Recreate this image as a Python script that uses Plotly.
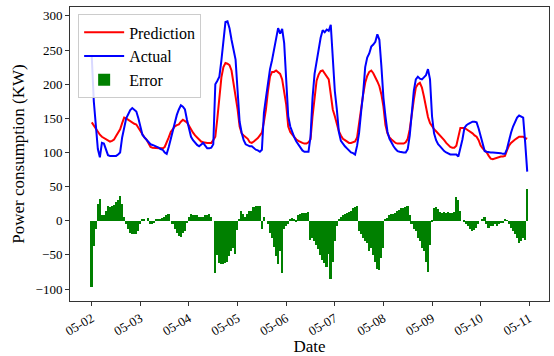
import pandas as pd
import plotly.graph_objects as go

start_time = "2023-05-02 00:00"

actual = [
    240, 175, 140, 105, 93, 114, 113, 104, 96, 95, 95, 95, 95, 97, 100, 122, 138, 150, 156, 162, 165, 163, 160, 150,
    138, 126, 122, 119, 115, 112, 111, 110, 109, 107, 105, 104, 100, 98, 108, 120, 129, 143, 155, 163, 169, 167, 163, 148,
    133, 123, 118, 114, 111, 109, 112, 114, 110, 106, 106, 107, 112, 200, 205, 211, 235, 265, 291, 292, 282, 265, 250, 236,
    190, 145, 129, 118, 112, 110, 109, 109, 106, 104, 103, 101, 104, 158, 180, 202, 222, 235, 250, 265, 282, 274, 281, 260,
    202, 153, 138, 129, 122, 116, 111, 107, 103, 101, 101, 101, 123, 180, 215, 235, 250, 268, 279, 276, 280, 278, 287, 240,
    190, 163, 130, 117, 112, 109, 106, 103, 100, 99, 97, 110, 129, 160, 187, 225, 239, 245, 255, 258, 262, 273, 265, 226,
    180, 153, 130, 120, 114, 109, 105, 102, 101, 100, 100, 100, 105, 125, 163, 190, 207, 211, 208, 207, 210, 213, 222, 207,
    153, 128, 118, 112, 109, 105, 102, 100, 98, 97, 97, 97, 97, 94, 105, 119, 136, 140, 142, 144, 145, 145, 144, 135,
    123, 112, 102, 101, 100, 100, 100, 100, 100, 99, 99, 98, 98, 105, 118, 129, 138, 146, 151, 154, 153, 151, 114, 72,
]

prediction = [
    144, 139, 134, 130, 126, 123, 121, 119, 118, 116, 117, 119, 124, 129, 134, 143, 151, 150, 148, 145, 144, 142, 141, 136,
    131, 127, 122, 119, 113, 108, 107, 107, 107, 107, 107, 106, 108, 114, 122, 130, 134, 138, 140, 141, 145, 148, 146, 144,
    139, 133, 129, 125, 122, 119, 116, 115, 114, 114, 114, 114, 118, 123, 150, 177, 210, 225, 231, 230, 228, 220, 202, 180,
    163, 138, 128, 125, 123, 120, 115, 114, 116, 118, 121, 125, 129, 145, 163, 190, 211, 218, 218, 220, 218, 215, 207, 190,
    170, 138, 130, 126, 122, 119, 117, 115, 114, 113, 113, 115, 119, 153, 180, 205, 214, 219, 220, 216, 212, 207, 185, 163,
    153, 140, 131, 125, 120, 118, 116, 114, 114, 115, 116, 122, 145, 163, 185, 202, 212, 218, 220, 216, 211, 204, 197, 185,
    167, 140, 128, 122, 119, 116, 114, 113, 113, 112, 113, 115, 120, 134, 160, 177, 195, 200, 202, 195, 182, 165, 152, 143,
    138, 134, 131, 128, 124, 122, 118, 114, 111, 108, 107, 107, 110, 123, 136, 136, 136, 134, 132, 131, 128, 125, 123, 118,
    110, 106, 103, 100, 95, 91, 90, 91, 93, 93, 94, 94, 95, 103, 110, 114, 117, 119, 121, 123, 123, 123, 121, 120,
]

error = [
    -97, -37, -12, 25, 32, 9, 8, 15, 22, 20, 21, 23, 27, 30, 36, 25, 5, -5, -12, -18, -20, -20, -20, -15,
    -5, 2, 3, 0, 4, -5, -5, -4, 3, 3, 2, 4, 6, 9, 10, 0, -5, -12, -18, -22, -24, -18, -15, -4,
    5, 10, 9, 8, 8, 6, 5, 5, 8, 9, 10, 6, 0, -77, -50, -62, -63, -63, -62, -60, -52, -45, -40, -48,
    -14, 2, 14, 10, 5, 10, 15, 15, 20, 22, 22, 22, -12, 5, 0, -5, -18, -25, -38, -52, -64, -45, -76, -12,
    -8, -5, 2, 4, 2, -2, 8, 10, 11, 12, 12, 13, -28, -25, -30, -35, -42, -50, -57, -62, -67, -48, -86, -60,
    -30, -8, 3, 5, 8, 10, 12, 13, 15, 18, 20, 22, -15, -20, -25, -30, -32, -45, -40, -50, -60, -70, -72, -55,
    -40, 2, 4, 8, 10, 10, 12, 14, 16, 18, 19, 20, 22, 8, -5, -12, -15, -25, -30, -40, -45, -60, -75, -35,
    -2, 18, 20, 17, 13, 12, 13, 12, 13, 12, 12, 13, 35, 30, 15, 0, -2, -5, -8, -12, -15, -13, -10, -5,
    0, 3, 5, -5, -10, -8, -8, -5, -7, -5, -4, -3, 2, 1, -5, -10, -15, -20, -25, -32, -30, -25, -28, 46,
]

tick_dates = ["2023-05-02", "2023-05-03", "2023-05-04", "2023-05-05", "2023-05-06",
              "2023-05-07", "2023-05-08", "2023-05-09", "2023-05-10", "2023-05-11"]
tick_labels = ["05-02", "05-03", "05-04", "05-05", "05-06", "05-07", "05-08", "05-09", "05-10", "05-11"]
y_ticks = [-100, -50, 0, 50, 100, 150, 200, 250, 300]

times = pd.date_range(start_time, periods=len(actual), freq="h")

FONT = "Liberation Serif"

fig = go.Figure()
fig.add_trace(go.Scatter(x=times, y=prediction, mode="lines", name="Prediction",
                         line=dict(color="#ff0000", width=2)))
fig.add_trace(go.Scatter(x=times, y=actual, mode="lines", name="Actual",
                         line=dict(color="#0000ff", width=2)))
fig.add_trace(go.Bar(x=times, y=error, name="Error", marker=dict(color="#008000", line=dict(width=0)),
                     width=0.8 * 3600 * 1000))

span = times[-1] - times[0]
pad = span * 0.05
fig.update_layout(
    width=554, height=356,
    margin=dict(l=70, r=5, t=7, b=55, autoexpand=False),
    paper_bgcolor="white", plot_bgcolor="white",
    font=dict(family=FONT, size=13, color="black"),
    showlegend=True,
    legend=dict(x=0.017, y=0.975, xanchor="left", yanchor="top",
                bordercolor="#cccccc", borderwidth=1, bgcolor="rgba(255,255,255,0.85)",
                font=dict(family=FONT, size=16), tracegroupgap=0, itemwidth=40),
    bargap=0,
)
fig.update_xaxes(
    range=[times[0] - pad, times[-1] + pad], automargin=False,
    tickmode="array", tickvals=pd.to_datetime(tick_dates), ticktext=tick_labels,
    tickangle=-30, ticks="outside", ticklen=4, tickcolor="#333333",
    showline=True, linecolor="#333333", linewidth=1, mirror=True,
    showgrid=False, zeroline=False,
    title=dict(text="Date", font=dict(family=FONT, size=17), standoff=2),
)
fig.update_yaxes(
    range=[-117.5, 313], automargin=False,
    tickmode="array", tickvals=y_ticks,
    ticks="outside", ticklen=4, tickcolor="#333333",
    showline=True, linecolor="#333333", linewidth=1, mirror=True,
    showgrid=False, zeroline=False,
    title=dict(text="Power consumption (KW)", font=dict(family=FONT, size=17), standoff=6),
)

fig.write_html("out.html", config={"displayModeBar": False},
               post_script="document.body.style.margin='0px'; document.body.style.padding='0px';")
